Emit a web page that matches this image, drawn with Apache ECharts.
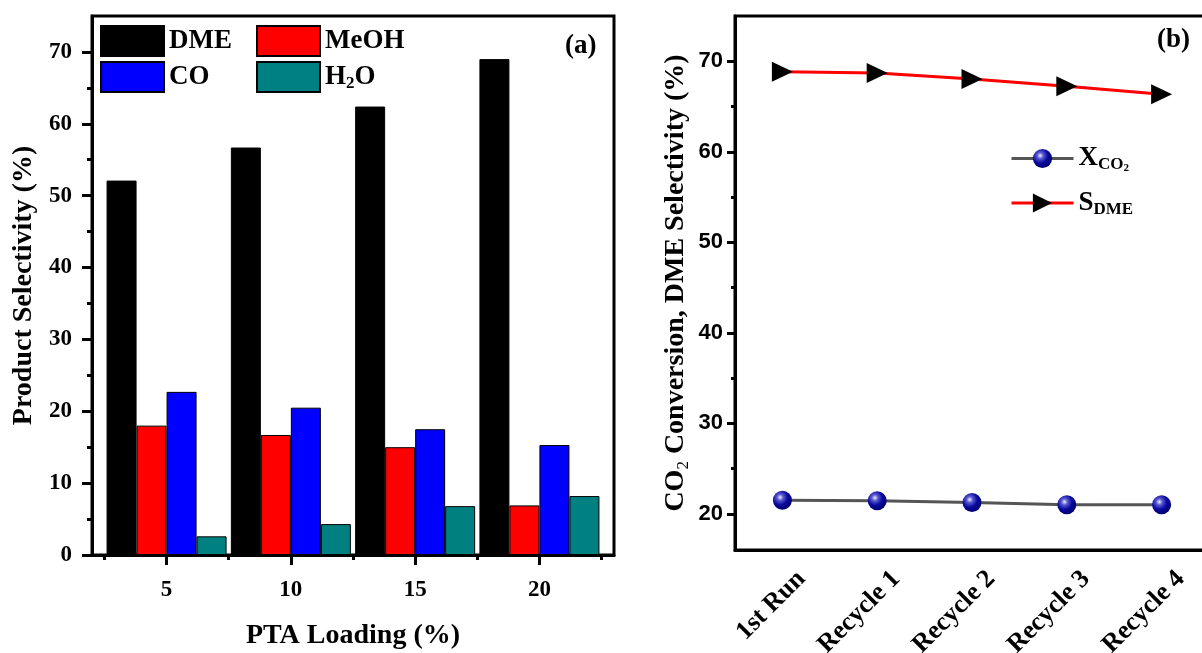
<!DOCTYPE html>
<html><head><meta charset="utf-8">
<script src="https://cdn.jsdelivr.net/npm/echarts@6/dist/echarts.min.js"></script>
<style>html,body{margin:0;padding:0;background:#fff}#c{width:1202px;height:653px}</style>
</head><body><div id="c"></div>
<script>
// ---- Panel (a) data ----
const loadings = [5, 10, 15, 20];
const dme  = [52.1, 56.7, 62.4, 69.0];
const meoh = [18.0, 16.7, 15.0, 6.9];
const co   = [22.7, 20.5, 17.5, 15.3];
const h2o  = [2.6, 4.3, 6.8, 8.2];
const leftYTicks = [0, 10, 20, 30, 40, 50, 60, 70];
const leftYMinor = [5, 15, 25, 35, 45, 55, 65];
const leftXMinor = [2.5, 7.5, 12.5, 17.5, 22.5];

// ---- Panel (b) data ----
const runs = ['1st Run', 'Recycle 1', 'Recycle 2', 'Recycle 3', 'Recycle 4'];
const xco2 = [21.5, 21.45, 21.25, 21.0, 21.0];
const sdme = [68.85, 68.7, 68.05, 67.25, 66.35];
const rightYTicks = [20, 30, 40, 50, 60, 70];
const rightYMinor = [25, 35, 45, 55, 65];

const SERIF = 'Liberation Serif';
const SANS = 'Liberation Sans';
const blk = '#000';

function pairs(xs, ys) { return xs.map((x, i) => [x, ys[i]]); }

const legendRich = {
  b: {fontSize: 27, fontFamily: SERIF, fontWeight: 'bold', color: blk, lineHeight: 30},
  s: {fontSize: 17, fontFamily: SERIF, fontWeight: 'bold', color: blk, lineHeight: 14, verticalAlign: 'bottom'},
  t: {fontSize: 11, fontFamily: SERIF, fontWeight: 'bold', color: blk, lineHeight: 8, verticalAlign: 'bottom'}
};
function legendFmt(name) {
  if (name === 'H2O') return '{b|H}{s|2}{b|O}';
  if (name === 'XCO2') return '{b|X}{s|CO}{t|2}';
  if (name === 'SDME') return '{b|S}{s|DME}';
  return '{b|' + name + '}';
}

const barCommon = {type: 'bar', xAxisIndex: 0, yAxisIndex: 0, barWidth: 30, barGap: '0%'};

const option = {
  animation: false,
  backgroundColor: '#fff',
  grid: [
    {left: 92, top: 16, width: 522, height: 539, show: true, borderColor: blk, borderWidth: 3, outerBoundsMode: 'none', containLabel: false},
    {left: 735, top: 16, width: 474, height: 534, show: true, borderColor: blk, borderWidth: 3, outerBoundsMode: 'none', containLabel: false}
  ],
  xAxis: [
    {type: 'value', gridIndex: 0, position: 'bottom', min: 2, max: 23,
     axisLine: {lineStyle: {color: blk, width: 3}},
     axisTick: {customValues: loadings, length: 10, lineStyle: {color: blk, width: 3}},
     axisLabel: {customValues: loadings, margin: 24, fontFamily: SERIF, fontWeight: 'bold', fontSize: 23, color: blk},
     splitLine: {show: false},
     name: 'PTA Loading (%)', nameLocation: 'middle', nameGap: 67,
     nameTextStyle: {fontFamily: SERIF, fontWeight: 'bold', fontSize: 28, color: blk}},
    {type: 'value', gridIndex: 0, position: 'bottom', min: 2, max: 23,
     axisLine: {show: false},
     axisTick: {customValues: leftXMinor, length: 5, lineStyle: {color: blk, width: 3}},
     axisLabel: {show: false}, splitLine: {show: false}},
    {type: 'category', gridIndex: 1, position: 'bottom', data: runs, boundaryGap: true,
     axisLine: {lineStyle: {color: blk, width: 3}},
     axisTick: {alignWithLabel: true, length: 7, lineStyle: {color: blk, width: 3}},
     axisLabel: {rotate: 45, interval: 0, margin: 6, verticalAlign: 'top', padding: [14, 0, 0, 0],
       fontFamily: SERIF, fontWeight: 'bold', fontSize: 26, color: blk}},
    {type: 'category', gridIndex: 1, position: 'bottom', data: runs, boundaryGap: true,
     axisLine: {show: false},
     axisTick: {alignWithLabel: true, inside: true, length: 7, lineStyle: {color: blk, width: 3}},
     axisLabel: {show: false}},
    {type: 'category', gridIndex: 1, position: 'bottom', data: runs, boundaryGap: true,
     axisLine: {show: false},
     axisTick: {length: 3, lineStyle: {color: blk, width: 3}},
     axisLabel: {show: false}}
  ],
  yAxis: [
    {type: 'value', gridIndex: 0, position: 'left', min: 0, max: 75,
     axisLine: {show: true, lineStyle: {color: blk, width: 3}},
     axisTick: {show: true, customValues: leftYTicks, length: 10, lineStyle: {color: blk, width: 3}},
     axisLabel: {customValues: leftYTicks, margin: 20, fontFamily: SERIF, fontWeight: 'bold', fontSize: 23, color: blk},
     splitLine: {show: false},
     name: 'Product Selectivity (%)', nameLocation: 'middle', nameGap: 54,
     nameTextStyle: {fontFamily: SERIF, fontWeight: 'bold', fontSize: 28, color: blk}},
    {type: 'value', gridIndex: 0, position: 'left', min: 0, max: 75,
     axisLine: {show: false},
     axisTick: {show: true, customValues: leftYMinor, length: 5, lineStyle: {color: blk, width: 3}},
     axisLabel: {show: false}, splitLine: {show: false}},
    {type: 'value', gridIndex: 1, position: 'left', min: 16, max: 75,
     axisLine: {show: true, lineStyle: {color: blk, width: 3}},
     axisTick: {show: true, customValues: rightYTicks, length: 8, lineStyle: {color: blk, width: 3}},
     axisLabel: {customValues: rightYTicks, margin: 12, fontFamily: SANS, fontWeight: 'bold', fontSize: 22, color: blk},
     splitLine: {show: false},
     name: '{a|CO}{s|2}{a| Conversion, DME Selectivity (%)}', nameLocation: 'middle', nameGap: 43,
     nameTextStyle: {rich: {
       a: {fontFamily: SERIF, fontWeight: 'bold', fontSize: 28, color: blk, lineHeight: 32},
       s: {fontFamily: SERIF, fontSize: 17, color: blk, lineHeight: 14, verticalAlign: 'bottom'}
     }}},
    {type: 'value', gridIndex: 1, position: 'left', min: 16, max: 75,
     axisLine: {show: false},
     axisTick: {show: true, customValues: rightYMinor, length: 4, lineStyle: {color: blk, width: 3}},
     axisLabel: {show: false}, splitLine: {show: false}}
  ],
  legend: [
    {left: 100, top: 25, padding: 0, orient: 'vertical', icon: 'rect', itemWidth: 63, itemHeight: 30, itemGap: 4, itemTextGap: 8,
     selectedMode: false, data: ['DME', 'CO'], formatter: legendFmt, textStyle: {rich: legendRich}},
    {left: 256, top: 25, padding: 0, orient: 'vertical', icon: 'rect', itemWidth: 63, itemHeight: 30, itemGap: 4, itemTextGap: 8,
     selectedMode: false, data: ['MeOH', 'H2O'], formatter: legendFmt, textStyle: {rich: legendRich}},
    {left: 1010, top: 145, padding: 0, orient: 'vertical', itemWidth: 62, itemHeight: 24, itemGap: 16, itemTextGap: 6,
     lineStyle: {width: 3},
     selectedMode: false, data: ['XCO2', 'SDME'], formatter: legendFmt, textStyle: {rich: legendRich}}
  ],
  graphic: [
    {type: 'text', left: 565, top: 33, style: {text: '(a)', font: 'bold 27px "Liberation Serif"', fill: blk}},
    {type: 'text', left: 1157, top: 27, style: {text: '(b)', font: 'bold 27px "Liberation Serif"', fill: blk}}
  ],
  series: [
    Object.assign({}, barCommon, {name: 'DME', data: pairs(loadings, dme), itemStyle: {color: '#000000', borderColor: blk, borderWidth: 1}}),
    Object.assign({}, barCommon, {name: 'MeOH', data: pairs(loadings, meoh), itemStyle: {color: '#ff0000', borderColor: blk, borderWidth: 1}}),
    Object.assign({}, barCommon, {name: 'CO', data: pairs(loadings, co), itemStyle: {color: '#0000ff', borderColor: blk, borderWidth: 1}}),
    Object.assign({}, barCommon, {name: 'H2O', data: pairs(loadings, h2o), itemStyle: {color: '#008080', borderColor: blk, borderWidth: 1}}),
    {name: 'XCO2', type: 'line', xAxisIndex: 2, yAxisIndex: 2, data: xco2,
     symbol: 'circle', symbolSize: 19, z: 5,
     lineStyle: {color: '#555555', width: 3},
     itemStyle: {color: {type: 'radial', x: 0.38, y: 0.35, r: 0.65, colorStops: [
       {offset: 0, color: '#f0f0ff'}, {offset: 0.25, color: '#5a5ad0'}, {offset: 0.6, color: '#0a0aa0'}, {offset: 1, color: '#000070'}]},
       borderWidth: 0}},
    {name: 'SDME', type: 'line', xAxisIndex: 2, yAxisIndex: 2, data: sdme,
     symbol: 'triangle', symbolRotate: -90, symbolSize: [20, 21], z: 5,
     lineStyle: {color: '#ff0000', width: 3},
     itemStyle: {color: '#000000'}}
  ]
};

const chart = echarts.init(document.getElementById('c'), null, {renderer: 'canvas'});
chart.setOption(option);
</script></body></html>
